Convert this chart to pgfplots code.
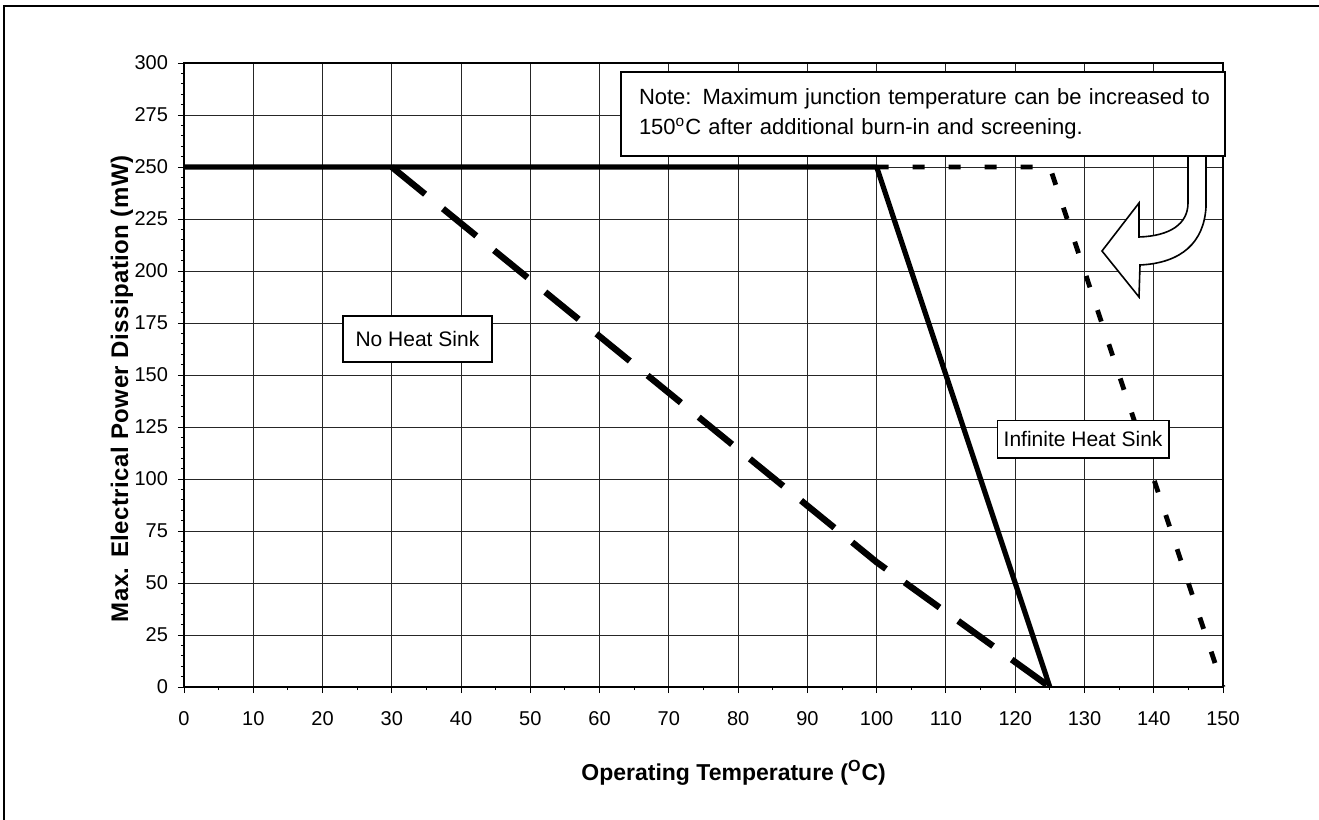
\documentclass[border=0pt]{standalone}
\usepackage{pgfplots}
\pgfplotsset{compat=1.18}
\usepackage{fontspec}
\setmainfont{Liberation Sans}
\newfontfamily\lslabel[LetterSpace=2]{Liberation Sans}
\begin{document}
\begin{tikzpicture}
\useasboundingbox (0,0) rectangle (659.5pt,410pt);
\draw[line width=1pt] (2pt,-5pt) -- (2pt,407pt) -- (665pt,407pt);
\begin{axis}[
  at={(92pt,66.5pt)}, anchor=south west,
  scale only axis, width=519.5pt, height=312pt,
  xmin=0, xmax=150, ymin=0, ymax=300,
  xtick={0,10,...,150}, ytick={0,25,...,300},
  minor x tick num=1, minor y tick num=4,
  tick align=outside, xtick pos=bottom, ytick pos=left,
  major tick length=3pt, minor tick length=1.6pt,
  every tick/.style={black, line width=0.5pt},
  grid=major,
  major grid style={black!85, line width=0.5pt},
  axis line style={black, line width=0.6pt},
  /pgf/number format/assume math mode=true,
  tick label style={font=\fontsize{10}{12}\selectfont},
  xticklabel style={yshift=-5.5pt},
  yticklabel style={xshift=-1.5pt},
  xlabel={\textbf{Operating Temperature (\textsuperscript{O}C)}},
  ylabel={\textbf{Max. Electrical Power Dissipation (mW)}},
  xlabel style={font=\fontsize{11.5}{13}\selectfont, at={(axis description cs:0.529,-0.138)}, anchor=center},
  ylabel style={font=\lslabel\fontsize{12}{13}\selectfont, at={(axis description cs:-0.0597,0.478)}, anchor=center, rotate=0},
  clip=false,
]
% No heat sink (dashed)
\addplot[black, line width=3.2pt, dash pattern=on 21.5pt off 11.5pt, line join=bevel] coordinates {(30,250) (100,60) (125,0)};
% Max junction 150 C (dotted)
\addplot[black, line width=2.4pt, dash pattern=on 6pt off 12pt] coordinates {(100,250) (125,250) (150,0)};
% Infinite heat sink (solid)
\addplot[black, line width=2.6pt, line join=bevel] coordinates {(0,250) (100,250) (125,0)};

\node[draw=black, line width=0.8pt, fill=white, minimum width=74.5pt, minimum height=23pt, inner sep=0pt, font=\fontsize{10.5}{12}\selectfont] at (axis cs:33.7,167.3) {No Heat Sink};
\node[draw=black, line width=0.8pt, fill=white, minimum width=85.7pt, minimum height=18.8pt, inner sep=0pt, font=\fontsize{10.5}{12}\selectfont] at (axis cs:129.8,119) {Infinite Heat Sink};
\end{axis}
\begin{scope}[x=0.5pt,y=-0.5pt,yshift=410pt]
\draw[line width=0.8pt, fill=white, line join=miter]
  (1206,150) -- (1206,207) .. controls (1204,242) and (1182,263) .. (1140,265)
  -- (1139,297) -- (1102,251) -- (1139,203) -- (1139,237)
  .. controls (1170,236) and (1188,224) .. (1188,203) -- (1188,150) -- cycle;
\node[draw=black, line width=0.8pt, fill=white, minimum width=302pt, minimum height=42pt, text width=292pt, inner xsep=5pt, align=left, font=\fontsize{11}{15}\selectfont] at (923,114) {\hspace*{4pt}Note: Maximum junction temperature can be increased to\\\hspace*{4pt}150\textsuperscript{o}C after additional burn-in and screening.};
\end{scope}
\end{tikzpicture}
\end{document}
